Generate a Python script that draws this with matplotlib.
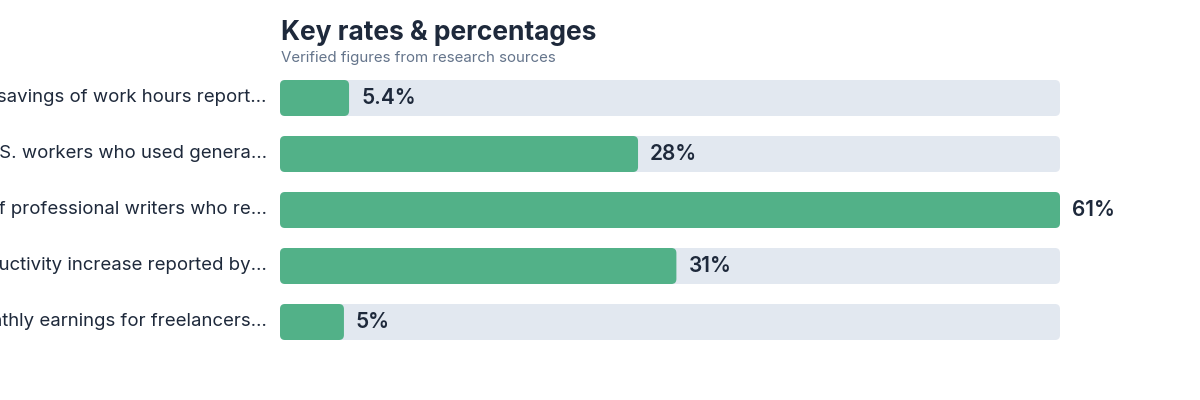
import matplotlib
matplotlib.use("Agg")
import matplotlib.pyplot as plt
from matplotlib.patches import FancyBboxPatch

# ---- data ----
labels = [
    "Time savings of work hours report\u2026",
    "Share of U.S. workers who used genera\u2026",
    "Share of professional writers who re\u2026",
    "Productivity increase reported by\u2026",
    "Drop in monthly earnings for freelancers\u2026",
]
values = [5.4, 28, 61, 31, 5]
value_text = ["5.4%", "28%", "61%", "31%", "5%"]

title = "Key rates & percentages"
subtitle = "Verified figures from research sources"

GREEN = "#52b188"
TRACK = "#e2e8f0"
DARK = "#1e293b"
MUTED = "#64748b"

plt.rcParams["font.family"] = ["Inter", "DejaVu Sans"]

fig = plt.figure(figsize=(12, 4), dpi=100)
ax = fig.add_axes([280 / 1200, 50 / 400, 780 / 1200, 280 / 400])
vmax = max(values)
ax.set_xlim(0, vmax)
ax.set_ylim(len(values) - 0.5, -0.5)
ax.axis("off")

px_x = 780 / vmax
px_y = 56.0
bar_h = 36 / 56
r = 5 / px_x
aspect = px_x / px_y

for i, (lab, v, vt) in enumerate(zip(labels, values, value_text)):
    y0 = i - bar_h / 2
    ax.add_patch(FancyBboxPatch((0, y0), vmax, bar_h,
                                boxstyle=f"round,pad=0,rounding_size={r}",
                                mutation_aspect=aspect, fc=TRACK, ec="none"))
    ax.add_patch(FancyBboxPatch((0, y0), v, bar_h,
                                boxstyle=f"round,pad=0,rounding_size={r}",
                                mutation_aspect=aspect, fc=GREEN, ec="none"))
    ax.annotate(vt, (v, i), xytext=(12, 0), textcoords="offset pixels",
                ha="left", va="center", fontsize=15, fontweight="semibold",
                color=DARK)
    ax.annotate(lab, (0, i), xytext=(-13, 0), textcoords="offset pixels",
                ha="right", va="center", fontsize=13.4, color=DARK,
                annotation_clip=False)

fig.text(281 / 1200, 1 - 33 / 400, title, fontsize=19, fontweight="bold",
         color=DARK, ha="left", va="center")
fig.text(281 / 1200, 1 - 58 / 400, subtitle, fontsize=10.85, color=MUTED,
         ha="left", va="center")

fig.savefig("out.png", dpi=100)
